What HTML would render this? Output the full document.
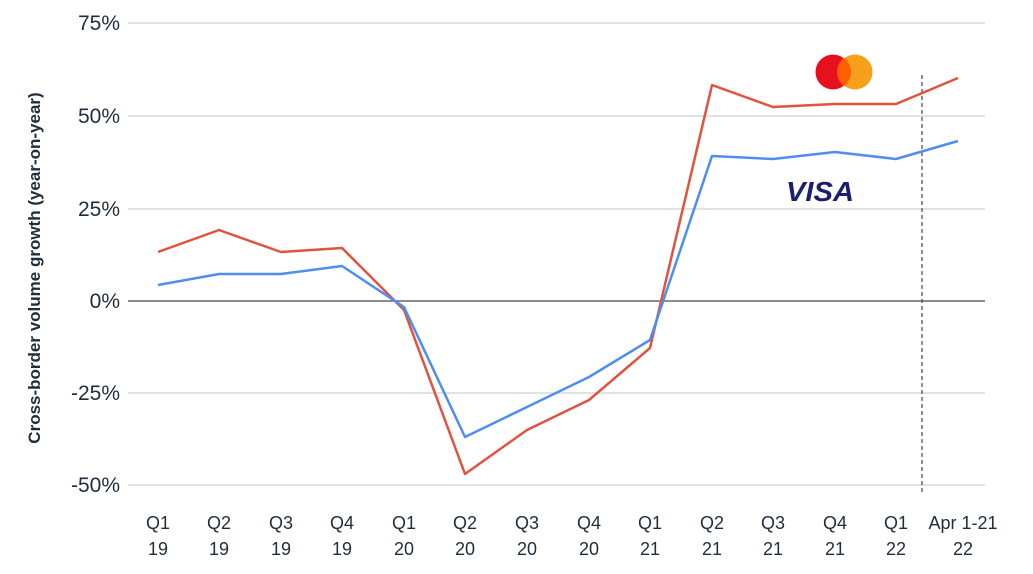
<!DOCTYPE html>
<html><head><meta charset="utf-8"><style>
html,body{margin:0;padding:0;background:#fff;}
svg{display:block;font-family:"Liberation Sans",sans-serif;}
</style></head><body>
<svg width="1033" height="574" viewBox="0 0 1033 574">
<g stroke="#d9d9d9" stroke-width="1.5">
<line x1="128" y1="23" x2="985" y2="23"/>
<line x1="128" y1="116" x2="985" y2="116"/>
<line x1="128" y1="209" x2="985" y2="209"/>
<line x1="128" y1="393" x2="985" y2="393"/>
<line x1="128" y1="485" x2="985" y2="485"/>
</g>
<line x1="128" y1="301" x2="985" y2="301" stroke="#666" stroke-width="1.5"/>
<line x1="922" y1="75" x2="922" y2="493" stroke="#444" stroke-width="1.2" stroke-dasharray="4,3"/>
<g fill="#1f2d3d" font-size="21" text-anchor="end">
<text x="120" y="30">75%</text>
<text x="120" y="123">50%</text>
<text x="120" y="216">25%</text>
<text x="120" y="308">0%</text>
<text x="120" y="400">-25%</text>
<text x="120" y="492">-50%</text>
</g>
<text transform="translate(40,268) rotate(-90)" text-anchor="middle" font-size="17" font-weight="bold" fill="#1f2d3d">Cross-border volume growth (year-on-year)</text>
<g fill="#1f2d3d" font-size="18" text-anchor="middle">
<text x="158" y="529">Q1</text><text x="158" y="555">19</text>
<text x="219" y="529">Q2</text><text x="219" y="555">19</text>
<text x="281" y="529">Q3</text><text x="281" y="555">19</text>
<text x="342" y="529">Q4</text><text x="342" y="555">19</text>
<text x="404" y="529">Q1</text><text x="404" y="555">20</text>
<text x="465" y="529">Q2</text><text x="465" y="555">20</text>
<text x="527" y="529">Q3</text><text x="527" y="555">20</text>
<text x="589" y="529">Q4</text><text x="589" y="555">20</text>
<text x="650" y="529">Q1</text><text x="650" y="555">21</text>
<text x="712" y="529">Q2</text><text x="712" y="555">21</text>
<text x="773" y="529">Q3</text><text x="773" y="555">21</text>
<text x="835" y="529">Q4</text><text x="835" y="555">21</text>
<text x="896" y="529">Q1</text><text x="896" y="555">22</text>
<text x="963" y="529">Apr 1-21</text><text x="963" y="555">22</text>
</g>
<polyline fill="none" stroke="#e0533f" stroke-width="2.5" stroke-linejoin="round" points="158,252 219,230 281,252 342,248 404,310 465,474 527,430 589,400 650,348 712,85 773,107 835,104 896,104 958,78"/>
<polyline fill="none" stroke="#4f8ef0" stroke-width="2.5" stroke-linejoin="round" points="158,285 219,274 281,274 342,266 404,307 465,437 527,407 589,377 650,340 712,156 773,159 835,152 896,159 958,141"/>
<circle cx="833" cy="72" r="17.5" fill="#e8101f"/>
<circle cx="855" cy="72" r="17.5" fill="#f79e1b"/>
<path d="M844,58 A17.5,17.5 0 0 1 844,86 A17.5,17.5 0 0 1 844,58Z" fill="#ff5f00"/>
<text x="820" y="201" text-anchor="middle" font-size="28" font-weight="bold" font-style="italic" fill="#1a1f71" textLength="68" lengthAdjust="spacingAndGlyphs">VISA</text>
</svg>
</body></html>
